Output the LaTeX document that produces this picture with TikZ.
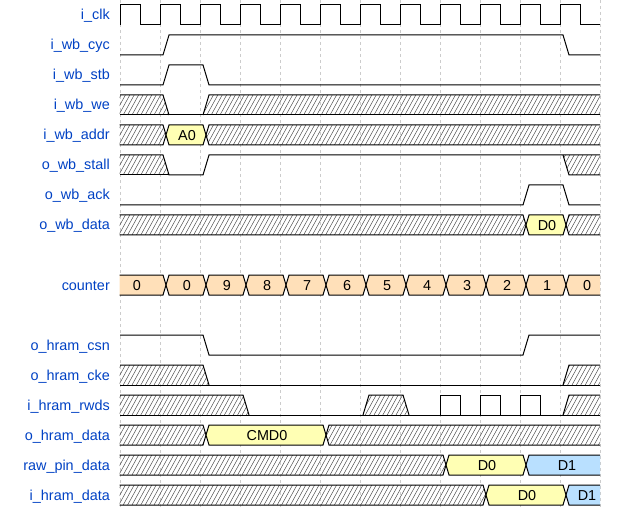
\documentclass[tikz,border=0pt]{standalone}
\usepackage{fontspec}
\setmainfont{Liberation Sans}
\definecolor{sigblue}{HTML}{0041C4}
\definecolor{datyellow}{HTML}{FFFFB4}
\definecolor{datorange}{HTML}{FFE0B9}
\definecolor{datblue}{HTML}{B9E0FF}
\definecolor{gridgray}{HTML}{CCCCCC}
\tikzset{
 wave/.style={line width=1pt,line join=miter},
 hatchline/.style={line width=.45pt,black!75},
 gridline/.style={gridgray,line width=.7pt,dash pattern=on 3pt off 3pt},
 siglabel/.style={anchor=base east,text=sigblue,inner sep=0,font=\fontsize{14.4}{17}\selectfont},
 datlabel/.style={anchor=base,inner sep=0,font=\fontsize{14.4}{17}\selectfont}
}
% hatch lines clipped to a path: from x, to x, path
\newcommand\hatchin[3]{%
 \begin{scope}
 \clip #3;
 \pgfmathtruncatemacro\ha{(#1-12)/4.4-1}
 \pgfmathtruncatemacro\hb{(#2+8)/4.4+1}
 \foreach \h in {\ha,...,\hb} \draw[hatchline] ({4.4*\h},20) -- ++(11,-20);
 \end{scope}}
% undefined bus value
\newcommand\busx[2]{%
 \hatchin{#1}{#2}{(#1+6,10) -- (#1+9,0) -- (#2+3,0) -- (#2+6,10) -- (#2+3,20) -- (#1+9,20) -- cycle}
 \draw[wave] (#1+6,10) -- (#1+9,0) -- (#2+3,0) -- (#2+6,10) -- (#2+3,20) -- (#1+9,20) -- cycle;}
% bus value: from, to, fill, text, name
\newcommand\busdata[5]{%
 \fill[#3] (#1+6,10) -- (#1+9,0) -- (#2+3,0) -- (#2+6,10) -- (#2+3,20) -- (#1+9,20) -- cycle;
 \draw[wave] (#1+6,10) -- (#1+9,0) -- (#2+3,0) -- (#2+6,10) -- (#2+3,20) -- (#1+9,20) -- cycle;
 \node[datlabel] (#5) at ({(#1+#2)/2+7},15.5) {#4};}

\begin{document}
\begin{tikzpicture}[x=1pt,y=-1pt]
\path[use as bounding box] (0,0) rectangle (620,510);
\foreach \g in {0,...,12}
 \draw[gridline] ({120+40*\g},0) -- ({120+40*\g},510);

\foreach \k/\txt in {0/i\_clk,1/i\_wb\_cyc,2/i\_wb\_stb,3/i\_wb\_we,4/i\_wb\_addr,
 5/o\_wb\_stall,6/o\_wb\_ack,7/o\_wb\_data,9/counter,11/o\_hram\_csn,12/o\_hram\_cke,
 13/i\_hram\_rwds,14/o\_hram\_data,15/raw\_pin\_data,16/i\_hram\_data}
 \node[siglabel] (lbl\k) at (110,{20+30*\k}) {\txt};

% i_clk
\begin{scope}[shift={(0,5)}]
\draw[wave] (120,20) \foreach \p in {0,...,11} {|- ++(20,-20) |- ++(20,20)};
\end{scope}
% i_wb_cyc
\begin{scope}[shift={(0,35)}]
\draw[wave] (120,20) -- (163,20) -- (169,0) -- (563,0) -- (569,20) -- (600,20);
\end{scope}
% i_wb_stb
\begin{scope}[shift={(0,65)}]
\draw[wave] (120,20) -- (163,20) -- (169,0) -- (203,0) -- (209,20) -- (600,20);
\end{scope}
% i_wb_we
\begin{scope}[shift={(0,95)}]
\clip (119.5,-2) rectangle (600,22);
\hatchin{100}{170}{(100,0) -- (163,0) -- (169,20) -- (100,20) -- cycle}
\hatchin{200}{600}{(203,20) -- (209,0) -- (620,0) -- (620,20) -- cycle}
\draw[wave] (120,0) -- (163,0) -- (169,20);
\draw[wave] (120,20) -- (600,20);
\draw[wave] (203,20) -- (209,0) -- (600,0);
\end{scope}
% i_wb_addr
\begin{scope}[shift={(0,125)}]
\clip (119.5,-2) rectangle (600,22);
\busx{100}{160}
\busdata{160}{200}{datyellow}{A0}{addrA0}
\busx{200}{600}
\end{scope}
% o_wb_stall
\begin{scope}[shift={(0,155)}]
\clip (119.5,-2) rectangle (600,22);
\hatchin{100}{170}{(100,0) -- (163,0) -- (169,20) -- (100,20) -- cycle}
\hatchin{560}{600}{(563,0) -- (569,20) -- (620,20) -- (620,0) -- cycle}
\draw[wave] (120,20) -- (169,20);
\draw[wave] (120,0) -- (163,0) -- (169,20) -- (203,20) -- (209,0) -- (600,0);
\draw[wave] (563,0) -- (569,20) -- (600,20);
\end{scope}
% o_wb_ack
\begin{scope}[shift={(0,185)}]
\draw[wave] (120,20) -- (523,20) -- (529,0) -- (563,0) -- (569,20) -- (600,20);
\end{scope}
% o_wb_data
\begin{scope}[shift={(0,215)}]
\clip (119.5,-2) rectangle (600,22);
\busx{100}{520}
\busdata{520}{560}{datyellow}{D0}{wbD0}
\busx{560}{600}
\end{scope}
% counter
\begin{scope}[shift={(0,275)}]
\clip (119.5,-2) rectangle (600,22);
\foreach \v [count=\c from 0] in {0,0,9,8,7,6,5,4,3,2,1,0}{
 \pgfmathtruncatemacro\xa{\c==0 ? 100 : 120+40*\c}
 \pgfmathtruncatemacro\xb{160+40*\c}
 \busdata{\xa}{\xb}{datorange}{\v}{cnt\c}}
\end{scope}
% o_hram_csn
\begin{scope}[shift={(0,335)}]
\draw[wave] (120,0) -- (203,0) -- (209,20) -- (523,20) -- (529,0) -- (600,0);
\end{scope}
% o_hram_cke
\begin{scope}[shift={(0,365)}]
\clip (119.5,-2) rectangle (600,22);
\hatchin{100}{210}{(100,0) -- (203,0) -- (209,20) -- (100,20) -- cycle}
\hatchin{560}{600}{(563,20) -- (569,0) -- (620,0) -- (620,20) -- cycle}
\draw[wave] (120,0) -- (203,0) -- (209,20);
\draw[wave] (120,20) -- (600,20);
\draw[wave] (563,20) -- (569,0) -- (600,0);
\end{scope}
% i_hram_rwds
\begin{scope}[shift={(0,395)}]
\clip (119.5,-2) rectangle (600,22);
\hatchin{100}{250}{(100,0) -- (243,0) -- (249,20) -- (100,20) -- cycle}
\hatchin{360}{410}{(363,20) -- (369,0) -- (403,0) -- (409,20) -- cycle}
\hatchin{560}{600}{(563,20) -- (569,0) -- (620,0) -- (620,20) -- cycle}
\draw[wave] (120,0) -- (243,0) -- (249,20);
\draw[wave] (120,20) -- (600,20);
\draw[wave] (363,20) -- (369,0) -- (403,0) -- (409,20);
\foreach \q in {440,480,520}
 \draw[wave] (\q,20) |- ++(20,-20) -- ++(0,20);
\draw[wave] (563,20) -- (569,0) -- (600,0);
\end{scope}
% o_hram_data
\begin{scope}[shift={(0,425)}]
\clip (119.5,-2) rectangle (600,22);
\busx{100}{200}
\busdata{200}{320}{datyellow}{CMD0}{hramCMD0}
\busx{320}{600}
\end{scope}
% raw_pin_data
\begin{scope}[shift={(0,455)}]
\clip (119.5,-2) rectangle (600,22);
\busx{100}{440}
\busdata{440}{520}{datyellow}{D0}{rawD0}
\busdata{520}{600}{datblue}{D1}{rawD1}
\end{scope}
% i_hram_data
\begin{scope}[shift={(0,485)}]
\clip (119.5,-2) rectangle (600,22);
\busx{100}{480}
\busdata{480}{560}{datyellow}{D0}{hramD0}
\busdata{560}{600}{datblue}{D1}{hramD1}
\end{scope}
\end{tikzpicture}
\end{document}
